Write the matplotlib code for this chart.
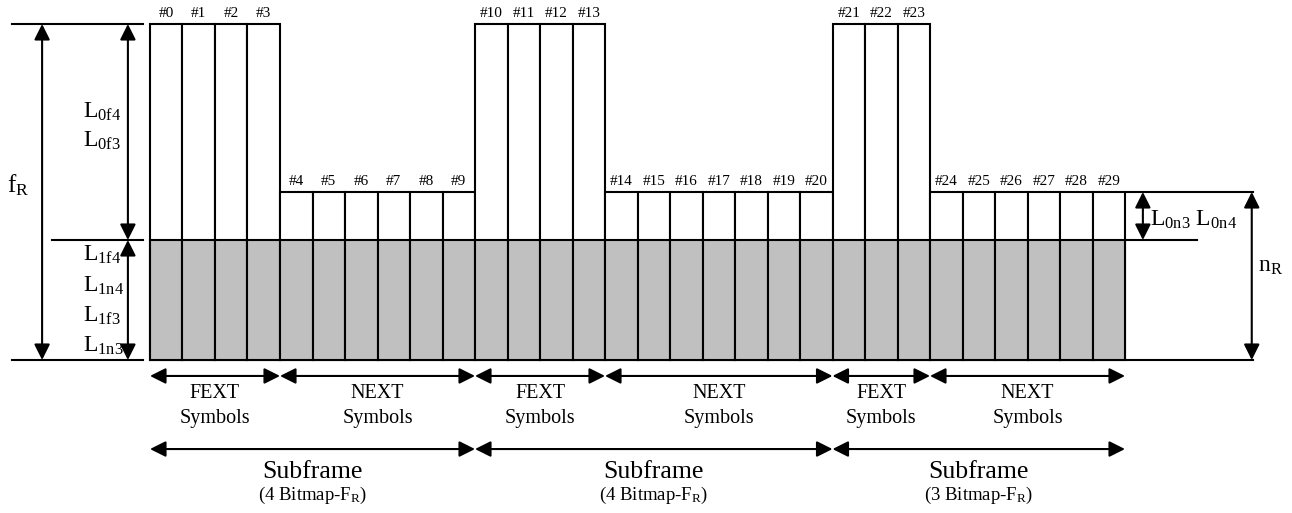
"""
FEXT / NEXT symbol bitmap layout diagram
"""
import matplotlib
matplotlib.use("Agg")
import matplotlib.pyplot as plt

plt.rcParams["font.family"] = ["Liberation Serif", "DejaVu Serif"]
plt.rcParams["mathtext.fontset"] = "custom"
plt.rcParams["mathtext.rm"] = "Liberation Serif"
plt.rcParams["mathtext.it"] = "Liberation Serif:italic"

# symbol slots #0..#29 and their heights (shaded part = 1.0)
slots = list(range(30))
heights = [2.8] * 4 + [1.4] * 6 + [2.8] * 4 + [1.4] * 7 + [2.8] * 3 + [1.4] * 6
shade_h = 1.0
fext_h, next_h = 2.8, 1.4

# symbol groups: (start slot, end slot, name)
groups = [(0, 4, "FEXT"), (4, 10, "NEXT"), (10, 14, "FEXT"),
          (14, 21, "NEXT"), (21, 24, "FEXT"), (24, 30, "NEXT")]
# subframes: (start slot, end slot, bitmap count)
subframes = [(0, 10, 4), (10, 21, 4), (21, 30, 3)]

fig = plt.figure(figsize=(12.92, 5.13), dpi=100)
ax = fig.add_axes([0, 0, 1, 1])
ax.set_xlim(-150 / 32.5, (1292 - 150) / 32.5)
ax.set_ylim(-153 / 120, 360 / 120)
ax.axis("off")

LW = 1.5
ax.bar(slots, heights, width=1, align="edge", color="white", edgecolor="black", linewidth=LW, zorder=2)
ax.bar(slots, [shade_h] * len(slots), width=1, align="edge", color="#c0c0c0", edgecolor="black",
       linewidth=LW, zorder=3)
for s, h in zip(slots, heights):
    ax.text(s + 0.5, h + 0.03, f"#{s}", ha="center", va="bottom", fontsize=11)

arrow = dict(arrowstyle="<|-|>,head_length=0.5,head_width=0.25", mutation_scale=19,
             color="black", lw=LW, shrinkA=0, shrinkB=0)


def dbl(x0, y0, x1, y1):
    ax.annotate("", xy=(x1, y1), xytext=(x0, y0), arrowprops=arrow)


# left dimension lines
ax.plot([-4.25, -0.22], [fext_h, fext_h], color="black", lw=LW)
ax.plot([-4.25, -0.22], [0, 0], color="black", lw=LW)
ax.plot([-3.0, -0.22], [shade_h, shade_h], color="black", lw=LW)
dbl(-3.32, 0, -3.32, fext_h)
dbl(-0.68, shade_h, -0.68, fext_h)
dbl(-0.68, 0, -0.68, shade_h)
ax.text(-4.4, 1.46, r"f$_\mathrm{R}$", ha="left", va="center", fontsize=18)
for lab, y in [("0f4", 2.07), ("0f3", 1.83)]:
    ax.text(-2.07, y, r"L$_\mathrm{%s}$" % lab, ha="left", va="center", fontsize=17)
for lab, y in [("1f4", 0.88), ("1n4", 0.62), ("1f3", 0.37), ("1n3", 0.12)]:
    ax.text(-2.07, y, r"L$_\mathrm{%s}$" % lab, ha="left", va="center", fontsize=17)

# right dimension lines
ax.plot([30.06, 33.95], [next_h, next_h], color="black", lw=LW)
ax.plot([30.06, 32.2], [shade_h, shade_h], color="black", lw=LW)
ax.plot([30.06, 33.95], [0, 0], color="black", lw=LW)
dbl(30.55, shade_h, 30.55, next_h)
dbl(33.9, 0, 33.9, next_h)
ax.text(30.76, 1.17, r"L$_\mathrm{0n3}$ L$_\mathrm{0n4}$", ha="left", va="center", fontsize=17)
ax.text(34.1, 0.78, r"n$_\mathrm{R}$", ha="left", va="center", fontsize=17)

# symbol group arrows
for a, b, name in groups:
    dbl(a, -0.133, b, -0.133)
    ax.text((a + b) / 2, -0.275, name, ha="center", va="center", fontsize=14.5)
    ax.text((a + b) / 2, -0.49, "Symbols", ha="center", va="center", fontsize=14.5)

# subframe arrows
for a, b, n in subframes:
    dbl(a, -0.742, b, -0.742)
    ax.text((a + b) / 2, -0.93, "Subframe", ha="center", va="center", fontsize=18.5)
    ax.text((a + b) / 2, -1.13, r"(%d Bitmap-F$_\mathrm{R}$)" % n, ha="center", va="center", fontsize=13.5)

fig.savefig("out.png", dpi=100)
